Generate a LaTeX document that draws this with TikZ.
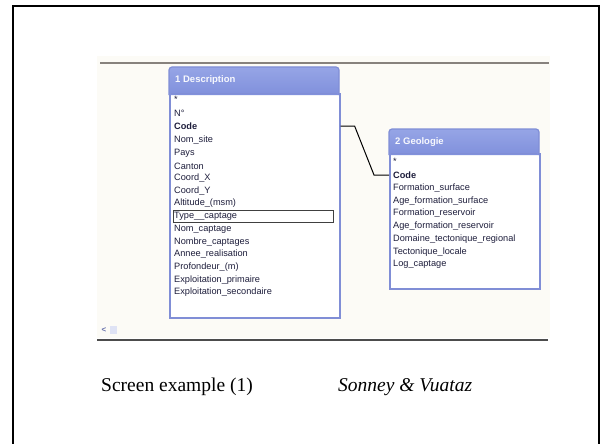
\documentclass[tikz,border=0pt]{standalone}
\usepackage{fontspec}
\setmainfont{Liberation Serif}
\newfontfamily\uifont{Liberation Sans}
\usetikzlibrary{positioning}
\definecolor{paper}{RGB}{252,251,246}
\definecolor{frameblue}{RGB}{128,142,214}
\definecolor{titletop}{RGB}{150,165,230}
\definecolor{titlebot}{RGB}{128,144,220}
\definecolor{rowink}{RGB}{30,30,60}
\definecolor{rulegray}{RGB}{135,130,125}
\tikzset{
  tablebox/.style={draw=frameblue, line width=1.6pt, fill=white},
  titlebar/.style={top color=titletop, bottom color=titlebot, draw=frameblue, line width=1.2pt,
    rounded corners=3pt},
  titletext/.style={anchor=west, text=white!92!titletop, font=\uifont\bfseries\fontsize{9.5}{11}\selectfont, inner sep=0pt},
  field/.style={anchor=west, text=rowink, font=\uifont\fontsize{9.2}{10}\selectfont, inner sep=0pt},
  keyfield/.style={field, font=\uifont\bfseries\fontsize{9.2}{10}\selectfont},
  link/.style={line width=1pt, black},
  caption/.style={anchor=west, font=\fontsize{19.5}{22}\selectfont, inner sep=0pt}
}
\begin{document}
\begin{tikzpicture}[x=1pt,y=-1pt]
\useasboundingbox (0,0) rectangle (602,444);
% slide frame (bottom edge runs off the page)
\draw[line width=2pt] (13,460) -- (13,6) -- (599,6) -- (599,460);

% screenshot area
\fill[paper] (97,56) rectangle (550,338);
\draw[rulegray, line width=2pt] (100,63) -- (549,63);
\draw[black!70, line width=1.8pt] (97,340) -- (548,340);

% scroll arrow and thumb
\node[text=frameblue!80!black, font=\uifont\bfseries\fontsize{8}{9}\selectfont, inner sep=0pt] (scrollarrow) at (104,330) {<};
\fill[frameblue!25] (110,326) rectangle (117,334);

% table 1: Description
\node[tablebox, minimum width=170pt, minimum height=224pt, anchor=north west, inner sep=0pt] (desc) at (169,93) {};
\draw[titlebar] (169,95) -- (169,67) -- (339,67) -- (339,95);
\draw[frameblue, line width=1pt] (171,93) -- (337,93);
\node[titletext] (desctitle) at (175,80) {1 Description};
\foreach \name/\txt/\yy/\sty in {
  d1/{*}/99/field, d2/{N°}/113/field, dcode/{Code}/126/keyfield, d4/{Nom\_site}/140/field,
  d5/{Pays}/153/field, d6/{Canton}/166/field, d7/{Coord\_X}/178/field, d8/{Coord\_Y}/191/field,
  d9/{Altitude\_(msm)}/203/field, d10/{Type\_\_captage}/216/field, d11/{Nom\_captage}/229/field,
  d12/{Nombre\_captages}/242/field, d13/{Annee\_realisation}/254/field, d14/{Profondeur\_(m)}/267/field,
  d15/{Exploitation\_primaire}/280/field, d16/{Exploitation\_secondaire}/292/field}
  \node[\sty] (\name) at (174,\yy) {\txt};
% selected row outline
\draw[black!75, line width=0.6pt] (173,210) rectangle (333,222);

% table 2: Geologie
\node[tablebox, minimum width=150pt, minimum height=135pt, anchor=north west, inner sep=0pt] (geo) at (389,153) {};
\draw[titlebar] (389,155) -- (389,129) -- (539,129) -- (539,155);
\draw[frameblue, line width=1pt] (391,153) -- (537,153);
\node[titletext] (geotitle) at (395,142) {2 Geologie};
\foreach \name/\txt/\yy/\sty in {
  g1/{*}/161/field, gcode/{Code}/175/keyfield, g3/{Formation\_surface}/188/field,
  g4/{Age\_formation\_surface}/201/field, g5/{Formation\_reservoir}/213/field,
  g6/{Age\_formation\_reservoir}/226/field, g7/{Domaine\_tectonique\_regional}/239/field,
  g8/{Tectonique\_locale}/252/field, g9/{Log\_captage}/264/field}
  \node[\sty] (\name) at (393,\yy) {\txt};

% relationship Code -- Code
\coordinate (srcend) at (desc.east |- dcode);
\coordinate (dstend) at (geo.west |- gcode);
\draw[link] (srcend) -- ++(14,0) -- ([xshift=-15pt]dstend) -- (dstend);

% caption line
\node[caption] (capleft) at (101,387) {Screen example (1)};
\node[caption, font=\itshape\fontsize{19.5}{22}\selectfont] (capright) at (338,387) {Sonney \& Vuataz};
\end{tikzpicture}
\end{document}
